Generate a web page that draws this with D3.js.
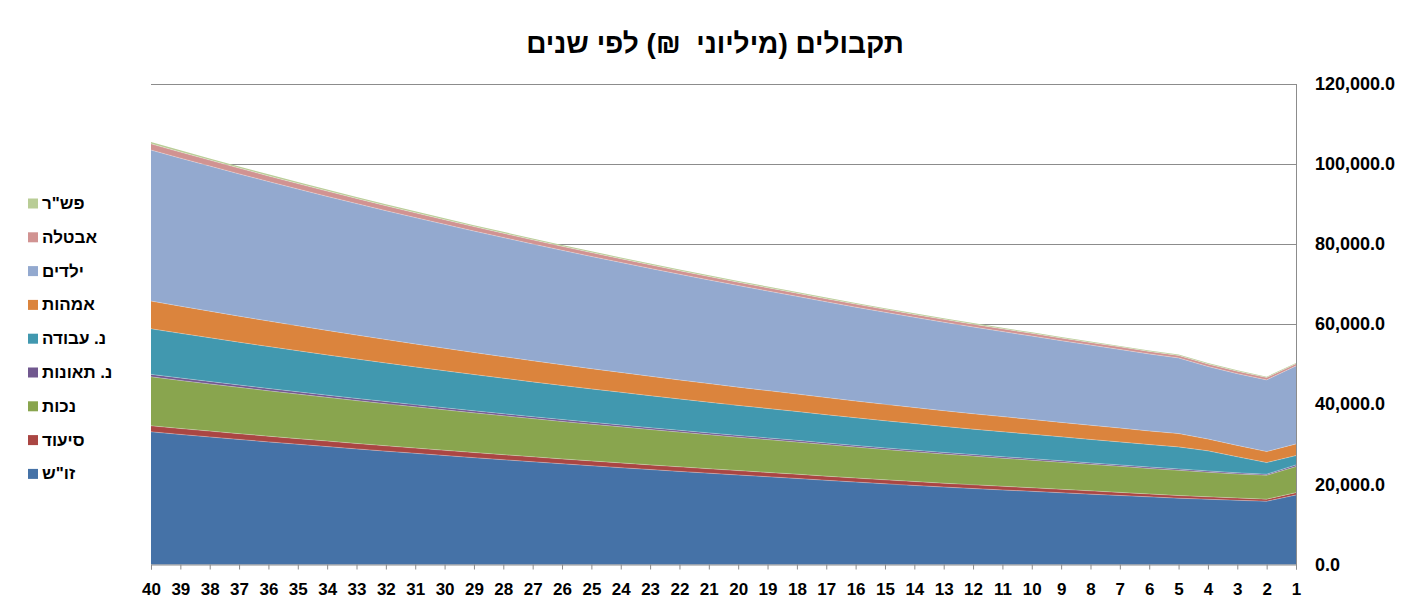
<!DOCTYPE html>
<html><head><meta charset="utf-8">
<script src="https://cdn.jsdelivr.net/npm/d3@7"></script>
<style>
html,body{margin:0;padding:0;background:#fff}
svg{display:block}
text{font-family:"Liberation Sans",Arial,sans-serif;font-weight:bold;fill:#000}
</style>
</head><body>
<svg id="chart" width="1411" height="605"></svg>
<script>
// Years remaining, shown from 40 down to 1
const categories = [40,39,38,37,36,35,34,33,32,31,30,29,28,27,26,25,24,23,22,21,20,19,18,17,16,15,14,13,12,11,10,9,8,7,6,5,4,3,2,1];

// Receipts by branch (million NIS), one value per year above
const zosh    = [33100,32450,31820,31200,30590,30000,29410,28840,28280,27730,27190,26660,26140,25630,25130,24640,24160,23690,23230,22780,22330,21900,21470,21000,20560,20130,19720,19320,18950,18600,18250,17900,17550,17220,16880,16550,16280,16020,15780,17350];
const siud    = [1500,1480,1470,1440,1420,1400,1390,1360,1340,1320,1300,1280,1270,1240,1220,1200,1190,1160,1140,1120,1100,1080,1070,1040,1020,1000,990,960,940,920,900,860,820,770,710,650,610,570,520,580];
const nechut  = [12230,12000,11770,11550,11330,11110,10900,10690,10490,10290,10100,9900,9720,9530,9350,9170,9000,8830,8660,8500,8330,8180,8020,7870,7720,7570,7430,7290,7150,7010,6880,6750,6620,6500,6370,6300,6130,5990,5980,6490];
const teunot  = [600,595,590,580,570,560,550,540,530,520,510,500,490,480,470,465,460,450,440,430,425,420,410,405,400,395,390,385,380,375,370,365,360,355,350,350,330,290,250,430];
const avoda   = [11380,11150,10920,10690,10470,10260,10040,9840,9630,9440,9240,9050,8860,8680,8500,8330,8160,7990,7820,7660,7510,7350,7200,7050,6910,6760,6620,6490,6350,6220,6100,5970,5850,5730,5610,5490,5000,4000,2900,2320];
const imahot  = [6910,6770,6630,6490,6360,6220,6100,5970,5850,5720,5610,5490,5380,5270,5160,5050,4950,4840,4740,4640,4550,4450,4360,4270,4180,4100,4010,3930,3850,3770,3690,3610,3540,3470,3390,3320,2950,2840,2740,2910];
const yeladim = [37670,36930,36210,35500,34800,34120,33450,32800,32150,31520,30910,30300,29710,29120,28550,27990,27440,26910,26380,25860,25350,24860,24370,23890,23420,22970,22510,22070,21640,21220,20800,20390,19990,19600,19220,18880,18100,17900,17890,19470];
const avtala  = [1550,1520,1480,1440,1400,1360,1320,1280,1240,1200,1160,1120,1080,1040,1000,970,940,910,880,860,840,820,800,780,760,745,730,715,700,690,680,670,660,650,640,630,620,610,600,520];
const pashar  = [450,440,430,420,410,400,390,380,370,360,350,345,340,335,330,325,320,315,310,305,300,295,290,285,280,275,270,265,260,255,250,245,240,235,230,225,220,215,210,180];

// Series names, bottom of the stack first
const seriesNames = ['זו"ש', 'סיעוד', 'נכות', 'נ. תאונות', 'נ. עבודה', 'אמהות', 'ילדים', 'אבטלה', 'פש"ר'];
const seriesValues = [zosh, siud, nechut, teunot, avoda, imahot, yeladim, avtala, pashar];
const seriesColors = ['#4572A7', '#AA4643', '#89A54E', '#71588F', '#4198AF', '#DB843D', '#93A9CF', '#D19392', '#B9CD96'];

const yTicks = [0, 20000, 40000, 60000, 80000, 100000, 120000];
const titleText = 'תקבולים (מיליוני  ₪) לפי שנים';

const rows = categories.map((c, i) => {
  const r = { cat: c };
  seriesNames.forEach((n, k) => { r[n] = seriesValues[k][i]; });
  return r;
});

const svg = d3.select('#chart');
const plot = { left: 151, right: 1296, top: 83.5, bottom: 564.5 };

const x = d3.scalePoint().domain(categories).range([plot.left, plot.right]);
const y = d3.scaleLinear().domain([0, 120000]).range([plot.bottom, plot.top]);

// horizontal gridlines
svg.append('g').selectAll('line')
  .data(yTicks.filter(d => d > 0))
  .join('line')
  .attr('x1', plot.left).attr('x2', plot.right)
  .attr('y1', d => Math.round(y(d)) + 0.5).attr('y2', d => Math.round(y(d)) + 0.5)
  .attr('stroke', '#8c8c8c').attr('stroke-width', 1);

// stacked areas
const stack = d3.stack().keys(seriesNames);
const layers = stack(rows);
const area = d3.area()
  .x(d => x(d.data.cat))
  .y0(d => y(d[0]))
  .y1(d => y(d[1]));
svg.append('g').selectAll('path')
  .data(layers)
  .join('path')
  .attr('d', area)
  .attr('fill', (d, i) => seriesColors[i]);

// faint seams between layers
const seam = d3.line().x(d => x(d.data.cat)).y(d => y(d[1]));
svg.append('g').selectAll('path')
  .data(layers.slice(0, -1))
  .join('path')
  .attr('d', seam)
  .attr('fill', 'none')
  .attr('stroke', '#ffffff')
  .attr('stroke-opacity', 0.35)
  .attr('stroke-width', 0.8);

// value axis on the right
const yAxis = svg.append('g')
  .attr('transform', `translate(${plot.right},0)`)
  .call(d3.axisRight(y).tickValues(yTicks).tickFormat(d3.format(',.1f')).tickSize(0).tickPadding(19));
yAxis.select('.domain').attr('stroke', '#8c8c8c');
yAxis.selectAll('text').style('font-size', '18px').style('font-family', '"Liberation Sans",Arial,sans-serif').style('font-weight', 'bold');

// category axis
const xAxis = svg.append('g')
  .attr('transform', `translate(0,${plot.bottom})`)
  .call(d3.axisBottom(x).tickSize(5).tickPadding(13));
xAxis.select('.domain').attr('stroke', '#8c8c8c');
xAxis.selectAll('.tick line').attr('stroke', '#8c8c8c');
xAxis.selectAll('text').style('font-size', '17px').style('font-family', '"Liberation Sans",Arial,sans-serif').style('font-weight', 'bold');

// title
svg.append('text')
  .attr('x', 715).attr('y', 53)
  .attr('text-anchor', 'middle')
  .style('font-size', '28px')
  .style('white-space', 'pre')
  .text(titleText);

// legend, top of the stack first
const legendOrder = d3.range(seriesNames.length).reverse();
const legend = svg.append('g');
legendOrder.forEach((k, j) => {
  const cy = 203.5 + j * 33.8;
  legend.append('rect')
    .attr('x', 28).attr('y', cy - 5).attr('width', 10).attr('height', 10)
    .attr('fill', seriesColors[k]);
  legend.append('text')
    .attr('x', 42).attr('y', cy)
    .attr('dominant-baseline', 'central')
    .style('font-size', '17px')
    .text(seriesNames[k]);
});
</script>
</body></html>
